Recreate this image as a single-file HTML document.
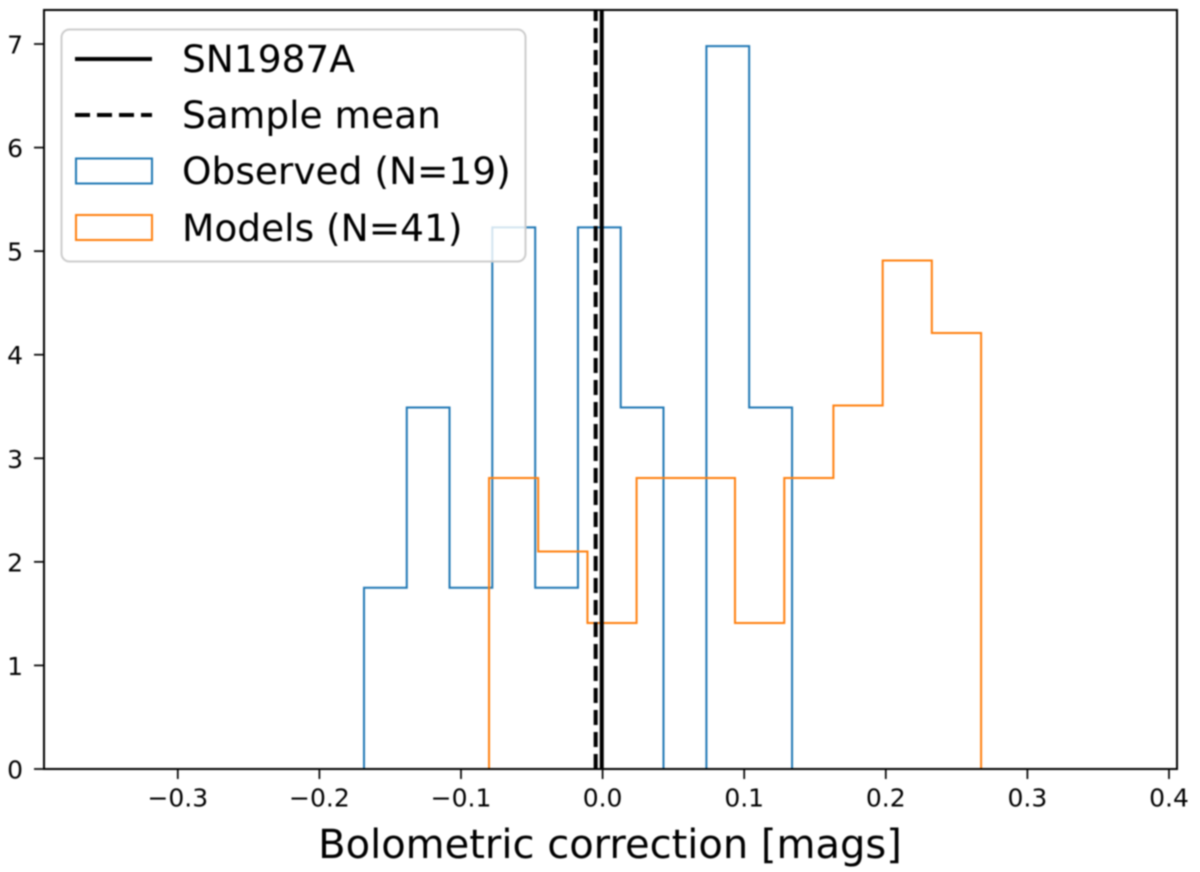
<!DOCTYPE html>
<html>
<head>
<meta charset="utf-8">
<style>
html,body{margin:0;padding:0;background:#fff;width:1200px;height:872px;overflow:hidden}
svg{display:block;font-family:"DejaVu Sans","Liberation Sans",sans-serif;filter:blur(0.7px)}
</style>
</head>
<body>
<svg id="chart" xmlns="http://www.w3.org/2000/svg" width="1200" height="872" viewBox="0 0 1200 872"></svg>
<script>
const observedEdges = [-0.1685, -0.1383, -0.1081, -0.0779, -0.0476, -0.0174, 0.0128, 0.043, 0.0733, 0.1035, 0.1338];
const observedValues = [1.75, 3.49, 1.75, 5.23, 1.75, 5.23, 3.49, 0, 6.98, 3.49];
const modelEdges = [-0.0802, -0.0455, -0.0107, 0.024, 0.0588, 0.0935, 0.1283, 0.163, 0.1978, 0.2325, 0.2673];
const modelValues = [2.81, 2.1, 1.41, 2.81, 2.81, 1.41, 2.81, 3.51, 4.91, 4.21];
const sn1987aValue = -0.0006;
const sampleMeanValue = -0.0049;
const xTicks = [-0.3, -0.2, -0.1, 0.0, 0.1, 0.2, 0.3, 0.4];
const xTickLabels = ["\u22120.3", "\u22120.2", "\u22120.1", "0.0", "0.1", "0.2", "0.3", "0.4"];
const yTicks = [0, 1, 2, 3, 4, 5, 6, 7];
const yTickLabels = ["0", "1", "2", "3", "4", "5", "6", "7"];
const legendLabels = ["SN1987A", "Sample mean", "Observed (N=19)", "Models (N=41)"];

const NS = "http://www.w3.org/2000/svg";
const svg = document.getElementById("chart");
const plot = {left: 44, right: 1177, top: 10, bottom: 769};
function xScale(v) { return 602.6 + v * 1416; }
function yScale(v) { return 769 - v * 103.57; }
function make(tag, attrs, parent) {
  const el = document.createElementNS(NS, tag);
  for (const k in attrs) el.setAttribute(k, attrs[k]);
  (parent || svg).appendChild(el);
  return el;
}
function stepPath(edges, values) {
  let d = "M" + xScale(edges[0]) + " " + yScale(0);
  values.forEach(function (v, i) {
    d += " L" + xScale(edges[i]) + " " + yScale(v);
    d += " L" + xScale(edges[i + 1]) + " " + yScale(v);
  });
  d += " L" + xScale(edges[edges.length - 1]) + " " + yScale(0);
  return d;
}

const observedLine = make("path", {d: stepPath(observedEdges, observedValues), fill: "none", stroke: "#1f77b4", "stroke-width": 2});



const modelLine = make("path", {d: stepPath(modelEdges, modelValues), fill: "none", stroke: "#ff7f0e", "stroke-width": 2});



const snLine = make("line", {x1: xScale(sn1987aValue), x2: xScale(sn1987aValue), y1: plot.bottom, y2: plot.top, stroke: "#000", "stroke-width": 4});



const meanLine = make("line", {x1: xScale(sampleMeanValue), x2: xScale(sampleMeanValue), y1: plot.bottom, y2: plot.top, stroke: "#000", "stroke-width": 4, "stroke-dasharray": "15 7"});



xTicks.forEach(function (t, i) {
  const tick = make("line", {x1: xScale(t), x2: xScale(t), y1: plot.bottom, y2: plot.bottom + 10, stroke: "#000", "stroke-width": 1.7});
  
  
  const label = make("text", {x: xScale(t), y: 806.5, "text-anchor": "middle", "font-size": 25, fill: "#000"});
  label.textContent = xTickLabels[i];
  
  
});
yTicks.forEach(function (t, i) {
  const tick = make("line", {x1: plot.left - 10, x2: plot.left, y1: yScale(t), y2: yScale(t), stroke: "#000", "stroke-width": 1.7});
  
  
  const label = make("text", {x: 23, y: yScale(t) + 9.5, "text-anchor": "end", "font-size": 25, fill: "#000"});
  label.textContent = yTickLabels[i];
  
  
});

const spines = make("rect", {x: plot.left, y: plot.top, width: plot.right - plot.left, height: plot.bottom - plot.top, fill: "none", stroke: "#000", "stroke-width": 2});



const xTitle = make("text", {x: 610, y: 858, "text-anchor": "middle", "font-size": 40, fill: "#000"});
xTitle.textContent = "Bolometric correction [mags]";



const legend = make("g", {});


const legendBox = make("rect", {x: 61.5, y: 29.5, width: 464, height: 232, rx: 8, ry: 8, fill: "#fff", "fill-opacity": 0.8, stroke: "#ccc", "stroke-width": 2}, legend);



const legendRows = [59, 115, 171, 228];
const swatch0 = make("line", {x1: 75, x2: 152, y1: legendRows[0], y2: legendRows[0], stroke: "#000", "stroke-width": 4}, legend);


const swatch1 = make("line", {x1: 75, x2: 152, y1: legendRows[1], y2: legendRows[1], stroke: "#000", "stroke-width": 4, "stroke-dasharray": "15 7"}, legend);


const swatch2 = make("rect", {x: 76, y: 158.5, width: 76, height: 25, fill: "none", stroke: "#1f77b4", "stroke-width": 2}, legend);


const swatch3 = make("rect", {x: 76, y: 215, width: 76, height: 25, fill: "none", stroke: "#ff7f0e", "stroke-width": 2}, legend);



legendLabels.forEach(function (txt, i) {
  const t = make("text", {x: 182, y: legendRows[i] + 13, "font-size": 37.5, fill: "#000"}, legend);
  t.textContent = txt;
  
  
});
</script>
</body>
</html>
